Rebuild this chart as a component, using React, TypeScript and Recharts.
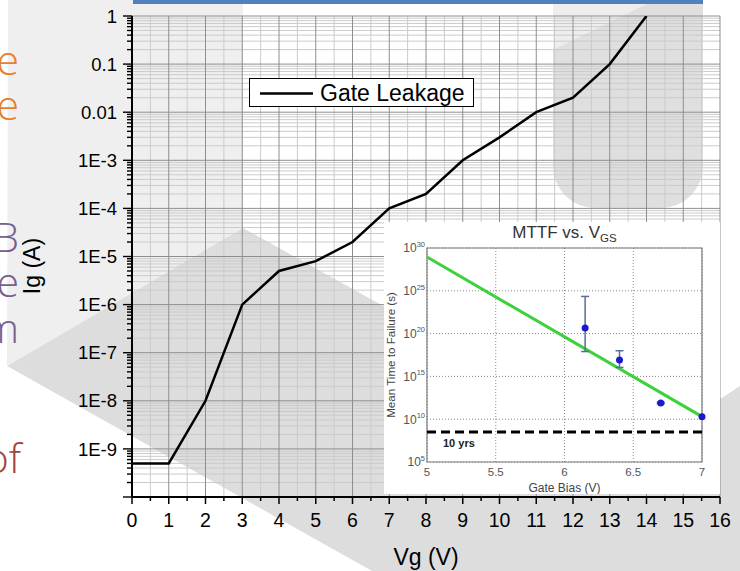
import React from 'react';
import {
  LineChart,
  Line,
  XAxis,
  YAxis,
  CartesianGrid,
  Legend,
  ComposedChart,
  Scatter,
  ErrorBar,
  ReferenceLine,
  ReferenceArea,
} from 'recharts';

const FONT = "'Liberation Sans', Arial, sans-serif";
const NARROW = "'Liberation Sans', Arial, sans-serif";
const SLIDE_FONT = "'Open Sans', 'Noto Sans', sans-serif";

// ---------- Main chart: gate leakage vs gate voltage ----------
const gateVoltage = [0, 1, 2, 3, 4, 5, 6, 7, 8, 9, 10, 11, 12, 13, 14];
const gateLeakage = [5e-10, 5e-10, 1e-8, 1e-6, 5e-6, 8e-6, 2e-5, 1e-4, 2e-4, 1e-3, 3e-3, 1e-2, 2e-2, 1e-1, 1];
const seriesName = 'Gate Leakage';

const xMajorTicks = [0, 1, 2, 3, 4, 5, 6, 7, 8, 9, 10, 11, 12, 13, 14, 15, 16];
const xMinorTicks = [0.5, 1.5, 2.5, 3.5, 4.5, 5.5, 6.5, 7.5, 8.5, 9.5, 10.5, 11.5, 12.5, 13.5, 14.5, 15.5];
const yDecades = [1e-10, 1e-9, 1e-8, 1e-7, 1e-6, 1e-5, 1e-4, 1e-3, 1e-2, 1e-1, 1];
const yDecadeLabels = ['', '1E-9', '1E-8', '1E-7', '1E-6', '1E-5', '1E-4', '1E-3', '0.01', '0.1', '1'];
const yMinorMultipliers = [2, 3, 4, 5, 6, 7, 8, 9];
const xAxisTitle = 'Vg (V)';
const yAxisTitle = 'Ig (A)';

// ---------- Inset chart: MTTF vs gate bias ----------
const insetTitle = 'MTTF vs. V';
const insetTitleSub = 'GS';
const fitBias = [5, 7];
const fitMttf = [9e28, 2e10];
const measuredBias = [6.15, 6.4, 6.7, 7.0];
const measuredMttf = [4.5e20, 8.3e16, 7.8e11, 1.9e10];
const measuredLower = [8e17, 1.1e16, 6.3e11, null];
const measuredUpper = [2.2e24, 1e18, 9.5e11, null];
const tenYearsSeconds = 3.156e8;
const tenYearsLabel = '10 yrs';
const insetXTicks = [5, 5.5, 6, 6.5, 7];
const insetYExponents = [5, 10, 15, 20, 25, 30];
const insetXTitle = 'Gate Bias (V)';
const insetYTitle = 'Mean Time to Failure (s)';

// ---------- Slide fragments around the chart ----------
const slideFragments = [
  { text: 'e', color: '#E87E2E', baseline: 75, end: 19 },
  { text: 'e', color: '#E87E2E', baseline: 120, end: 19 },
  { text: 'B', color: '#76608F', baseline: 252, end: 19 },
  { text: 'e', color: '#76608F', baseline: 297, end: 19 },
  { text: 'm', color: '#76608F', baseline: 343, end: 19 },
  { text: 'of', color: '#A4413C', baseline: 473, end: 21 },
];

// ---------- derived tables ----------
const leakData = gateVoltage.map((vg, i) => ({ vg, ig: gateLeakage[i] }));
const yMinorTicks = yDecades.slice(0, -1).flatMap((d) => yMinorMultipliers.map((m) => m * d));
const yAllTicks = [...yDecades, ...yMinorTicks].sort((a, b) => a - b);
const xAllTicks = [...xMajorTicks, ...xMinorTicks].sort((a, b) => a - b);
const decadeIndex = (v: number) => yDecades.findIndex((d) => Math.abs(v / d - 1) < 1e-9);

const fitData = fitBias.map((bias, i) => ({ bias, mttf: fitMttf[i] }));
const measuredData = measuredBias.map((bias, i) => {
  const lo = measuredLower[i];
  const hi = measuredUpper[i];
  const v = measuredMttf[i];
  return {
    bias,
    mttf: v,
    err: lo != null && hi != null ? [v - lo, hi - v] : undefined,
  };
});
const insetYTicks = insetYExponents.map((e) => Math.pow(10, e));

function MainXTick(props: any) {
  const { x, y, payload } = props;
  const v = payload.value as number;
  const major = xMajorTicks.includes(v);
  return (
    <g>
      <line x1={x} x2={x} y1={y} y2={y + (major ? 7 : 4)} stroke="#000" strokeWidth={1.5} />
      {major ? (
        <text x={x} y={y + 30} textAnchor="middle" fontSize={19.5} fontFamily={FONT} fill="#000">
          {v}
        </text>
      ) : null}
    </g>
  );
}

function MainYTick(props: any) {
  const { x, y, payload } = props;
  const idx = decadeIndex(payload.value);
  const major = idx >= 0;
  return (
    <g>
      <line x1={x} x2={x - (major ? 9 : 5)} y1={y} y2={y} stroke="#000" strokeWidth={1.4} />
      {major && yDecadeLabels[idx] ? (
        <text x={x - 15} y={y + 6.6} textAnchor="end" fontSize={18.5} fontFamily={FONT} fill="#000">
          {yDecadeLabels[idx]}
        </text>
      ) : null}
    </g>
  );
}

function LegendBox(props: any) {
  const item = props.payload && props.payload[0];
  return (
    <div
      style={{
        width: 225,
        height: 29,
        boxSizing: 'border-box',
        border: '1px solid #000',
        background: '#fff',
        position: 'relative',
        fontFamily: FONT,
      }}
    >
      <svg width={64} height={27} style={{ position: 'absolute', left: 0, top: 0 }}>
        <line x1={10} x2={63} y1={14.5} y2={14.5} stroke={item ? item.color : '#000'} strokeWidth={2.5} />
      </svg>
      <span
        style={{
          position: 'absolute',
          left: 70,
          top: 1,
          lineHeight: '27px',
          fontSize: 23,
          color: '#000',
          whiteSpace: 'nowrap',
        }}
      >
        {item ? item.value : ''}
      </span>
    </div>
  );
}

function InsetYTick(props: any) {
  const { x, y, payload } = props;
  const exp = Math.round(Math.log10(payload.value));
  return (
    <text x={x} y={y + 4.3} textAnchor="end" fontFamily={NARROW} fill="#555">
      <tspan fontSize={12}>10</tspan>
      <tspan fontSize={7.5} dy={-5.5}>
        {exp}
      </tspan>
    </text>
  );
}

function Background() {
  return (
    <svg width={740} height={571} style={{ position: 'absolute', left: 0, top: 0 }}>
      <rect x={0} y={0} width={740} height={571} fill="#ffffff" />
      <polygon points="8,0 243,0 243,228 7,366" fill="#efefef" />
      <polygon points="7,366 243,228 642,450 740,386 740,571 372,571" fill="#dddddd" />
      <rect x={553} y={-60} width={150} height={268} rx={42} fill="#dfdfdf" />
      <polygon points="553,0 655,0 553,50" fill="#eeeeee" />
      <rect x={133} y={0} width={570} height={4} fill="#4f81bd" />
      {slideFragments.map((f, i) => (
        <text
          key={i}
          x={f.end}
          y={f.baseline}
          textAnchor="end"
          fontSize={41}
          fontWeight={300}
          fontFamily={SLIDE_FONT}
          fill={f.color}
        >
          {f.text}
        </text>
      ))}
    </svg>
  );
}

function MainChart() {
  return (
    <div style={{ position: 'absolute', left: 0, top: 0 }}>
      <LineChart width={740} height={571} data={leakData} margin={{ top: 16, right: 20, bottom: 0, left: 0 }}>
        <CartesianGrid
          horizontalValues={yMinorTicks}
          verticalValues={xMinorTicks}
          stroke="#cbcbcb"
          strokeWidth={1}
        />
        <CartesianGrid horizontalValues={yDecades} verticalValues={xMajorTicks} stroke="#8e8e8e" strokeWidth={1} />
        <XAxis
          dataKey="vg"
          type="number"
          domain={[0, 16]}
          ticks={xAllTicks}
          interval={0}
          height={74}
          tickSize={0}
          tickMargin={0}
          tickLine={false}
          axisLine={{ stroke: '#000', strokeWidth: 2 }}
          tick={MainXTick}
          label={(p: any) => {
            const vb = p.viewBox;
            return (
              <text
                x={vb.x + vb.width / 2}
                y={vb.y + 68}
                textAnchor="middle"
                fontSize={23}
                fontFamily={FONT}
                fill="#000"
              >
                {xAxisTitle}
              </text>
            );
          }}
        />
        <YAxis
          type="number"
          scale="log"
          domain={[1e-10, 1]}
          allowDataOverflow
          ticks={yAllTicks}
          interval={0}
          width={132}
          tickSize={0}
          tickMargin={0}
          tickLine={false}
          axisLine={{ stroke: '#000', strokeWidth: 2 }}
          tick={MainYTick}
          label={(p: any) => {
            const vb = p.viewBox;
            const cx = vb.x + 32;
            const cy = vb.y + vb.height / 2 + 9.5;
            return (
              <text
                x={cx}
                y={cy}
                transform={`rotate(-90 ${cx} ${cy})`}
                textAnchor="middle"
                dominantBaseline="central"
                fontSize={23}
                fontFamily={FONT}
                fill="#000"
              >
                {yAxisTitle}
              </text>
            );
          }}
        />
        <Legend
          layout="horizontal"
          verticalAlign="middle"
          align="center"
          content={LegendBox}
          wrapperStyle={{ left: 249, top: 78, width: 'auto', height: 'auto' }}
        />
        <Line
          dataKey="ig"
          name={seriesName}
          type="linear"
          stroke="#000"
          strokeWidth={2.5}
          dot={false}
          activeDot={false}
          isAnimationActive={false}
        />
      </LineChart>
    </div>
  );
}

function InsetChart() {
  return (
    <div style={{ position: 'absolute', left: 384, top: 222, width: 336, height: 272, background: '#ffffff' }}>
      <ComposedChart width={336} height={272} margin={{ top: 26, right: 18, bottom: 0, left: 0 }}>
        <CartesianGrid stroke="#8a8a8a" strokeDasharray="1 2" />
        <XAxis
          dataKey="bias"
          type="number"
          domain={[5, 7]}
          ticks={insetXTicks}
          interval={0}
          height={32}
          tickSize={0}
          tickMargin={6}
          axisLine={false}
          tickLine={false}
          tick={{ fontSize: 11.5, fill: '#555', fontFamily: NARROW }}
          label={(p: any) => {
            const vb = p.viewBox;
            return (
              <text
                x={vb.x + vb.width / 2}
                y={vb.y + 29.5}
                textAnchor="middle"
                fontSize={12}
                fontFamily={NARROW}
                fill="#444"
              >
                {insetXTitle}
              </text>
            );
          }}
        />
        <YAxis
          dataKey="mttf"
          type="number"
          scale="log"
          domain={[1e5, 1e30]}
          allowDataOverflow
          ticks={insetYTicks}
          interval={0}
          width={43}
          tickSize={0}
          tickMargin={2}
          axisLine={false}
          tickLine={false}
          tick={InsetYTick}
          label={(p: any) => {
            const vb = p.viewBox;
            const cx = vb.x + 6;
            const cy = vb.y + vb.height / 2;
            return (
              <text
                x={cx}
                y={cy}
                transform={`rotate(-90 ${cx} ${cy})`}
                textAnchor="middle"
                dominantBaseline="central"
                fontSize={11.6}
                fontFamily={NARROW}
                fill="#444"
              >
                {insetYTitle}
              </text>
            );
          }}
        />
        <ReferenceArea x1={5} x2={7} y1={1e5} y2={1e30} fill="none" fillOpacity={0} stroke="#7a7a7a" strokeWidth={1.2} />
        <ReferenceLine
          y={tenYearsSeconds}
          stroke="#000"
          strokeWidth={3}
          strokeDasharray="9 5"
          label={(p: any) => {
            const vb = p.viewBox;
            return (
              <text x={vb.x + 16} y={vb.y + 14.5} fontSize={11} fontWeight="bold" fontFamily={FONT} fill="#222">
                {tenYearsLabel}
              </text>
            );
          }}
        />
        <Line
          data={fitData}
          dataKey="mttf"
          type="linear"
          stroke="#3dd13d"
          strokeWidth={3}
          dot={false}
          activeDot={false}
          isAnimationActive={false}
        />
        <Scatter
          data={measuredData}
          dataKey="mttf"
          isAnimationActive={false}
          shape={(p: any) => <circle cx={p.cx} cy={p.cy} r={3.5} fill="#1a1ad0" />}
        >
          <ErrorBar dataKey="err" direction="y" width={4} stroke="#5b6a9c" strokeWidth={1.5} isAnimationActive={false} />
        </Scatter>
      </ComposedChart>
      <svg width={336} height={30} style={{ position: 'absolute', left: 0, top: 0 }}>
        <text x={180.5} y={15.5} textAnchor="middle" fontSize={17} fontFamily={FONT} fill="#333">
          {insetTitle}
          <tspan fontSize={11.5} dy={4}>
            {insetTitleSub}
          </tspan>
        </text>
      </svg>
    </div>
  );
}

export default function App() {
  return (
    <div style={{ position: 'absolute', left: 0, top: 0, width: 740, height: 571, overflow: 'hidden' }}>
      <Background />
      <MainChart />
      <InsetChart />
    </div>
  );
}
